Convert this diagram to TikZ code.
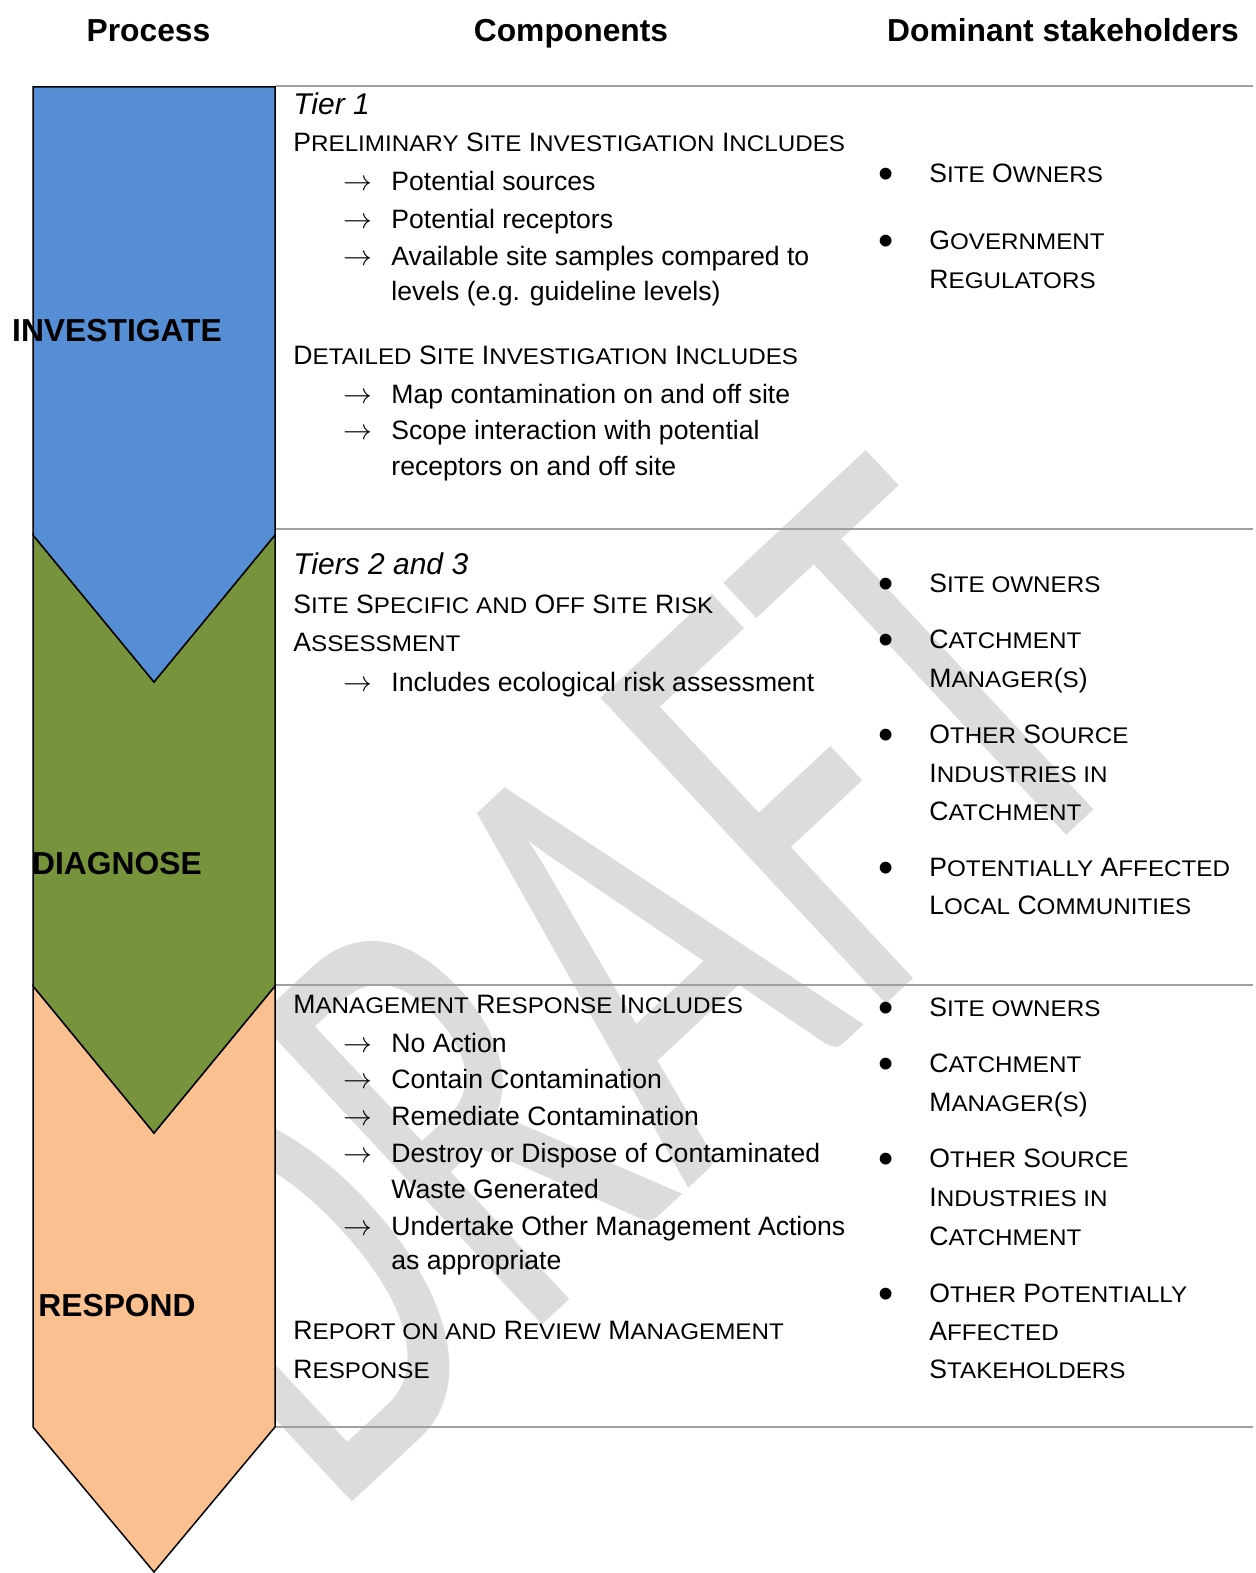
\documentclass[tikz,border=0pt]{standalone}
\usepackage{fontspec}
\usepackage{graphicx}
\setmainfont{Liberation Sans}
\newfontfamily\wmfont{Carlito}

% colours of the three process stages and of the rules
\definecolor{invblue}{RGB}{85,142,213}
\definecolor{diagreen}{RGB}{119,147,60}
\definecolor{resorange}{RGB}{250,192,144}
\definecolor{rulegrey}{RGB}{160,160,160}
\definecolor{wmgrey}{RGB}{220,220,220}

% synthetic small capitals: lower-case letters typed as capitals, shrunk
\newcommand\sm[1]{\scalebox{0.91}[0.85]{#1}}
\newcommand\bodyfont{\fontsize{13.3}{16}\selectfont}
\newcommand\tierfont{\fontsize{15}{18}\selectfont\itshape}
\newcommand\headfont{\fontsize{15.9}{19}\selectfont\bfseries}

\begin{document}
\begin{tikzpicture}[x=0.5pt,y=-0.5pt,
  hdr/.style={anchor=base, inner sep=0pt, font=\headfont},
  stage/.style={anchor=base, inner sep=0pt, font=\headfont},
  ln/.style={anchor=base west, inner sep=0pt, font=\bodyfont},
  tier/.style={anchor=base west, inner sep=0pt, font=\tierfont},
  arr/.style={anchor=base west, inner sep=0pt, font=\bodyfont},
  bul/.style={anchor=base, inner sep=0pt, font=\fontsize{21.7}{22}\selectfont},
  chevron/.style={draw=black, line width=0.75pt, line join=miter},
  rule/.style={draw=rulegrey, line width=1pt}]

\useasboundingbox (0,0) rectangle (1256,1573);

% DRAFT watermark behind everything, condensed and turned 43 degrees
\node[rotate=43, xscale=0.644, text=wmgrey, inner sep=0pt] (wm) at (601,984)
  {\wmfont\fontsize{326}{326}\selectfont DRAFT};

% process chevrons
\path[chevron, fill=resorange] (33,986) -- (154,1133) -- (275,986) -- (275,1427) -- (154,1572) -- (33,1427) -- cycle;
\path[chevron, fill=diagreen] (33,535) -- (154,682) -- (275,535) -- (275,986) -- (154,1133) -- (33,986) -- cycle;
\path[chevron, fill=invblue] (33,87) -- (275,87) -- (275,535) -- (154,682) -- (33,535) -- cycle;

% row rules
\coordinate (r0a) at (276,86);   \coordinate (r0b) at (1253,86);
\coordinate (r1a) at (276,528.5); \coordinate (r1b) at (1253,528.5);
\coordinate (r2a) at (276,985);  \coordinate (r2b) at (1253,985);
\coordinate (r3a) at (276,1427); \coordinate (r3b) at (1253,1427);
\draw[rule] (r0a) -- (r0b);
\draw[rule] (r1a) -- (r1b);
\draw[rule] (r2a) -- (r2b);
\draw[rule] (r3a) -- (r3b);

% column headings
\node[hdr] (hproc) at (148.5,41.5) {Process};
\node[hdr] (hcomp) at (571,41.5) {Components};
\node[hdr] (hstake) at (1063,41.5) {Dominant stakeholders};

% stage labels
\node[stage] (sinv) at (117,341.7) {INVESTIGATE};
\node[stage] (sdia) at (117,874) {DIAGNOSE};
\node[stage] (sres) at (117,1316.7) {RESPOND};

% ---- components: investigate
\node[tier] (c11) at (293,115) {Tier 1};
\node[ln] (c12) at (293,152) {P\sm{RELIMINARY} S\sm{ITE} I\sm{NVESTIGATION} I\sm{NCLUDES}};
\node[arr] (a13) at (343,191) {$\rightarrow$};
\node[ln] (c13) at (391,191) {Potential sources};
\node[arr] (a14) at (343,228.5) {$\rightarrow$};
\node[ln] (c14) at (391,228.5) {Potential receptors};
\node[arr] (a15) at (343,265.5) {$\rightarrow$};
\node[ln] (c15) at (391,265.5) {Available site samples compared to};
\node[ln] (c16) at (391,300) {levels (e.g. guideline levels)};
\node[ln] (c17) at (293,364) {D\sm{ETAILED} S\sm{ITE} I\sm{NVESTIGATION} I\sm{NCLUDES}};
\node[arr] (a18) at (343,403) {$\rightarrow$};
\node[ln] (c18) at (391,403) {Map contamination on and off site};
\node[arr] (a19) at (343,439) {$\rightarrow$};
\node[ln] (c19) at (391,439) {Scope interaction with potential};
\node[ln] (c110) at (391,475) {receptors on and off site};

% ---- components: diagnose
\node[tier] (c21) at (293,574) {Tiers 2 and 3};
\node[ln] (c22) at (293,613) {S\sm{ITE} S\sm{PECIFIC AND} O\sm{FF} S\sm{ITE} R\sm{ISK}};
\node[ln] (c23) at (293,651) {A\sm{SSESSMENT}};
\node[arr] (a24) at (343,691) {$\rightarrow$};
\node[ln] (c24) at (391,691) {Includes ecological risk assessment};

% ---- components: respond
\node[ln] (c31) at (293,1013) {M\sm{ANAGEMENT} R\sm{ESPONSE} I\sm{NCLUDES}};
\node[arr] (a32) at (343,1052) {$\rightarrow$};
\node[ln] (c32) at (391,1052) {No Action};
\node[arr] (a33) at (343,1088) {$\rightarrow$};
\node[ln] (c33) at (391,1088) {Contain Contamination};
\node[arr] (a34) at (343,1125) {$\rightarrow$};
\node[ln] (c34) at (391,1125) {Remediate Contamination};
\node[arr] (a35) at (343,1162) {$\rightarrow$};
\node[ln] (c35) at (391,1162) {Destroy or Dispose of Contaminated};
\node[ln] (c36) at (391,1198) {Waste Generated};
\node[arr] (a37) at (343,1235) {$\rightarrow$};
\node[ln] (c37) at (391,1235) {Undertake Other Management Actions};
\node[ln] (c38) at (391,1269) {as appropriate};
\node[ln] (c39) at (293,1339) {R\sm{EPORT ON AND} R\sm{EVIEW} M\sm{ANAGEMENT}};
\node[ln] (c310) at (293,1378) {R\sm{ESPONSE}};

% ---- stakeholders: investigate
\node[bul] (b11) at (886,188.7) {•};
\node[ln] (s11) at (929,182.7) {S\sm{ITE} O\sm{WNERS}};
\node[bul] (b12) at (886,255.3) {•};
\node[ln] (s12) at (929,249.3) {G\sm{OVERNMENT}};
\node[ln] (s13) at (929,288.3) {R\sm{EGULATORS}};

% ---- stakeholders: diagnose
\node[bul] (b21) at (886,598) {•};
\node[ln] (s21) at (929,592) {S\sm{ITE OWNERS}};
\node[bul] (b22) at (886,654) {•};
\node[ln] (s22) at (929,648) {C\sm{ATCHMENT}};
\node[ln] (s23) at (929,687) {M\sm{ANAGER}(\sm{S})};
\node[bul] (b24) at (886,749) {•};
\node[ln] (s24) at (929,743) {O\sm{THER} S\sm{OURCE}};
\node[ln] (s25) at (929,782) {I\sm{NDUSTRIES IN}};
\node[ln] (s26) at (929,820) {C\sm{ATCHMENT}};
\node[bul] (b27) at (886,882) {•};
\node[ln] (s27) at (929,876) {P\sm{OTENTIALLY} A\sm{FFECTED}};
\node[ln] (s28) at (929,914) {L\sm{OCAL} C\sm{OMMUNITIES}};

% ---- stakeholders: respond
\node[bul] (b31) at (886,1022) {•};
\node[ln] (s31) at (929,1016) {S\sm{ITE OWNERS}};
\node[bul] (b32) at (886,1078.5) {•};
\node[ln] (s32) at (929,1072.5) {C\sm{ATCHMENT}};
\node[ln] (s33) at (929,1111) {M\sm{ANAGER}(\sm{S})};
\node[bul] (b34) at (886,1173) {•};
\node[ln] (s34) at (929,1167) {O\sm{THER} S\sm{OURCE}};
\node[ln] (s35) at (929,1206.5) {I\sm{NDUSTRIES IN}};
\node[ln] (s36) at (929,1245.5) {C\sm{ATCHMENT}};
\node[bul] (b37) at (886,1308.5) {•};
\node[ln] (s37) at (929,1302.5) {O\sm{THER} P\sm{OTENTIALLY}};
\node[ln] (s38) at (929,1340.5) {A\sm{FFECTED}};
\node[ln] (s39) at (929,1378.5) {S\sm{TAKEHOLDERS}};

\end{tikzpicture}
\end{document}
